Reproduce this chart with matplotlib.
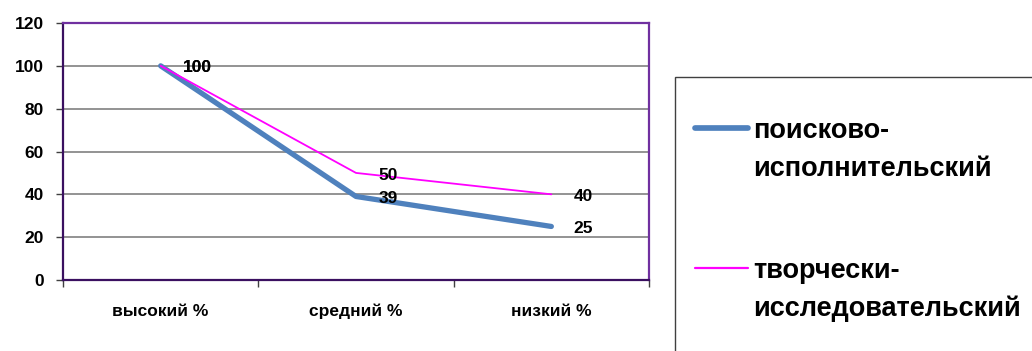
import matplotlib.pyplot as plt
from matplotlib.lines import Line2D
from matplotlib.patches import Rectangle

plt.rcParams['font.family'] = ['Liberation Sans', 'DejaVu Sans']
plt.rcParams['font.weight'] = 'bold'

categories = ['высокий %', 'средний %', 'низкий %']
series_names = ['поисково-\nисполнительский', 'творчески-\nисследовательский']
search_exec = [100, 39, 25]
creative_research = [100, 50, 40]
series_colors = ['#4F81BD', '#FF00FF']
series_widths = [3.8, 1.3]
y_ticks = [0, 20, 40, 60, 80, 100, 120]

fig = plt.figure(figsize=(10.32, 3.51), dpi=100)
ax = fig.add_axes([63 / 1032, 1 - 280 / 351, (649 - 63) / 1032, 257 / 351])

x = list(range(len(categories)))
for vals, col, lw in zip([search_exec, creative_research], series_colors, series_widths):
    ax.plot(x, vals, color=col, lw=lw, solid_capstyle='round', solid_joinstyle='round', zorder=3)
    for xi, v in zip(x, vals):
        ax.annotate(str(v), (xi, v), xytext=(16, -1.5), textcoords='offset points',
                    ha='left', va='center', fontsize=12.5, fontweight='bold', zorder=4)

ax.set_xlim(-0.5, len(categories) - 0.5)
ax.set_ylim(0, 120)
ax.set_yticks(y_ticks)
ax.set_yticklabels([str(t) for t in y_ticks], fontsize=12.5, fontweight='bold')
for t in y_ticks[1:-1]:
    ax.axhline(t, color='#808080', lw=1.2, zorder=1)

ax.set_xticks(x)
ax.set_xticklabels(categories, fontsize=12.5, fontweight='bold')
ax.tick_params(axis='x', which='major', length=0, pad=17)
ax.set_xticks([i - 0.5 for i in range(len(categories) + 1)], minor=True)
ax.tick_params(axis='x', which='minor', length=5, width=1, color='#404040')
ax.tick_params(axis='y', length=5, width=1, color='#404040', pad=9)

for side in ['top', 'right']:
    ax.spines[side].set_color('#7030A0')
    ax.spines[side].set_linewidth(1.6)
ax.spines['left'].set_color('#3A1060')
ax.spines['left'].set_linewidth(1.6)
ax.spines['bottom'].set_color('#3A1060')
ax.spines['bottom'].set_linewidth(1.6)

# legend box, partly off the figure like in the source
W, H = 1032, 351
fig.add_artist(Rectangle((675 / W, -0.2), 0.5, 1 - 77 / H + 0.2, transform=fig.transFigure,
                         fill=False, edgecolor='#404040', lw=1))
entry_y = [128, 268]
for name, col, lw, yy in zip(series_names, series_colors, series_widths, entry_y):
    fig.add_artist(Line2D([695 / W, 748 / W], [1 - yy / H, 1 - yy / H], transform=fig.transFigure,
                          color=col, lw=lw + 0.3, solid_capstyle='round'))
    for i, line in enumerate(name.split('\n')):
        fig.text(753 / W, 1 - (yy + 3 + i * 38) / H, line, ha='left', va='center',
                 fontsize=19.5, fontweight='bold')

fig.savefig('out.png', dpi=100)
